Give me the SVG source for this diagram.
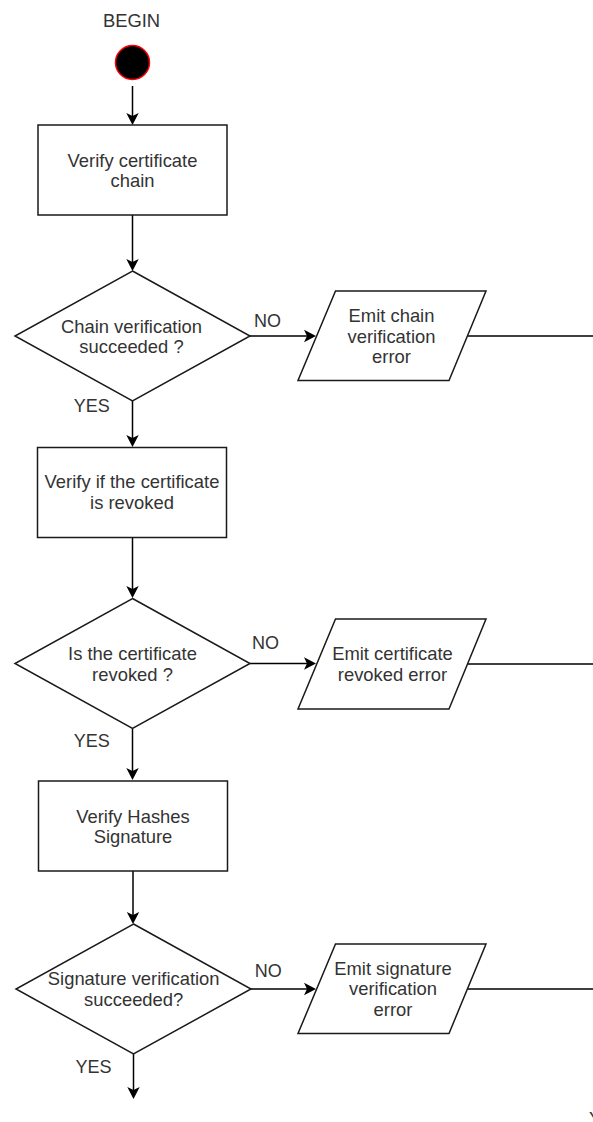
<svg xmlns="http://www.w3.org/2000/svg" width="593" height="1122" viewBox="0 0 593 1122">
  <style>
    .shape { fill: #ffffff; stroke: #1a1a1a; stroke-width: 1.5; }
    .edge { fill: none; stroke: #000000; stroke-width: 1.5; }
    .txt { font-family: "Liberation Sans", Arial, sans-serif; font-size: 18.4px; fill: #333333; text-anchor: middle; }
    .lbl { font-family: "Liberation Sans", Arial, sans-serif; font-size: 18px; fill: #333333; text-anchor: middle; }
  </style>
  <defs>
    <!-- classic arrowhead: reference point is the notch, tip sits 9px ahead -->
    <marker id="arrow" markerUnits="userSpaceOnUse" viewBox="-4 -7 14 14" markerWidth="14" markerHeight="14" refX="0" refY="0" orient="auto">
      <path d="M9,0 L-3,-6.2 L0,0 L-3,6.2 Z" fill="#000000"/>
    </marker>
  </defs>
  <rect width="593" height="1122" fill="#ffffff"/>

  <!-- connectors -->
  <g id="connectors">
    <line class="edge" x1="132.5" y1="86" x2="132.5" y2="116" marker-end="url(#arrow)"/>
    <line class="edge" x1="132.5" y1="215" x2="132.5" y2="262" marker-end="url(#arrow)"/>
    <line class="edge" x1="250" y1="336" x2="307" y2="336" marker-end="url(#arrow)"/>
    <line class="edge" x1="468" y1="336" x2="593" y2="336"/>
    <line class="edge" x1="132.5" y1="401" x2="132.5" y2="438" marker-end="url(#arrow)"/>
    <line class="edge" x1="132.5" y1="537.5" x2="132.5" y2="589" marker-end="url(#arrow)"/>
    <line class="edge" x1="250" y1="663.5" x2="307" y2="663.5" marker-end="url(#arrow)"/>
    <line class="edge" x1="468" y1="664" x2="593" y2="664"/>
    <line class="edge" x1="132.5" y1="728.5" x2="132.5" y2="771" marker-end="url(#arrow)"/>
    <line class="edge" x1="133" y1="871" x2="133" y2="915" marker-end="url(#arrow)"/>
    <line class="edge" x1="251" y1="989" x2="307" y2="989" marker-end="url(#arrow)"/>
    <line class="edge" x1="468" y1="989" x2="593" y2="989"/>
    <line class="edge" x1="133.5" y1="1054" x2="133.5" y2="1090" marker-end="url(#arrow)"/>
    <text class="lbl" x="267.5" y="326.7">NO</text>
    <text class="lbl" x="91.7" y="411.7">YES</text>
    <text class="lbl" x="265.5" y="649.3">NO</text>
    <text class="lbl" x="91.7" y="746.7">YES</text>
    <text class="lbl" x="268.3" y="977.3">NO</text>
    <text class="lbl" x="93.5" y="1073.3">YES</text>
    <text class="lbl" x="589" y="1124.5" style="text-anchor:start">Y</text>
  </g>

  <!-- start -->
  <g id="begin">
    <text class="txt" x="131.5" y="26.7">BEGIN</text>
    <circle cx="132.5" cy="62.5" r="17" fill="#000000" stroke="#ff0000" stroke-width="1.5"/>
  </g>

  <g id="verify-chain">
    <rect class="shape" x="38" y="125" width="189" height="90"/>
    <text class="txt" x="132.5" y="166.7">Verify certificate</text>
    <text class="txt" x="132.5" y="187">chain</text>
  </g>

  <g id="chain-ok">
    <polygon class="shape" points="132.5,271 250,336 132.5,401 15,336"/>
    <text class="txt" x="131.5" y="332.7">Chain verification</text>
    <text class="txt" x="131.5" y="353.3">succeeded ?</text>
  </g>

  <g id="chain-error">
    <polygon class="shape" points="335.5,291 486,291 449,380.5 298,380.5"/>
    <text class="txt" x="391.5" y="321.7">Emit chain</text>
    <text class="txt" x="391.5" y="342.7">verification</text>
    <text class="txt" x="391.5" y="363.3">error</text>
  </g>

  <g id="verify-revoked">
    <rect class="shape" x="37.5" y="447.5" width="189" height="90"/>
    <text class="txt" x="132" y="488.3">Verify if the certificate</text>
    <text class="txt" x="132" y="509.3">is revoked</text>
  </g>

  <g id="is-revoked">
    <polygon class="shape" points="132.5,598.5 250,663.5 132.5,728.5 15,663.5"/>
    <text class="txt" x="132.5" y="660">Is the certificate</text>
    <text class="txt" x="132.5" y="680.7">revoked ?</text>
  </g>

  <g id="revoked-error">
    <polygon class="shape" points="335.5,619 486,619 449,709 298,709"/>
    <text class="txt" x="392.5" y="660">Emit certificate</text>
    <text class="txt" x="392.5" y="680.7">revoked error</text>
  </g>

  <g id="verify-signature">
    <rect class="shape" x="38.5" y="781" width="189" height="90"/>
    <text class="txt" x="133" y="822.7">Verify Hashes</text>
    <text class="txt" x="133" y="843.3">Signature</text>
  </g>

  <g id="signature-ok">
    <polygon class="shape" points="133.5,924 251,989 133.5,1054 16,989"/>
    <text class="txt" x="133.7" y="985">Signature verification</text>
    <text class="txt" x="133.7" y="1005.7">succeeded?</text>
  </g>

  <g id="signature-error">
    <polygon class="shape" points="335.5,944 486,944 449,1033.5 298,1033.5"/>
    <text class="txt" x="393" y="975">Emit signature</text>
    <text class="txt" x="393" y="995">verification</text>
    <text class="txt" x="393" y="1016">error</text>
  </g>
</svg>
